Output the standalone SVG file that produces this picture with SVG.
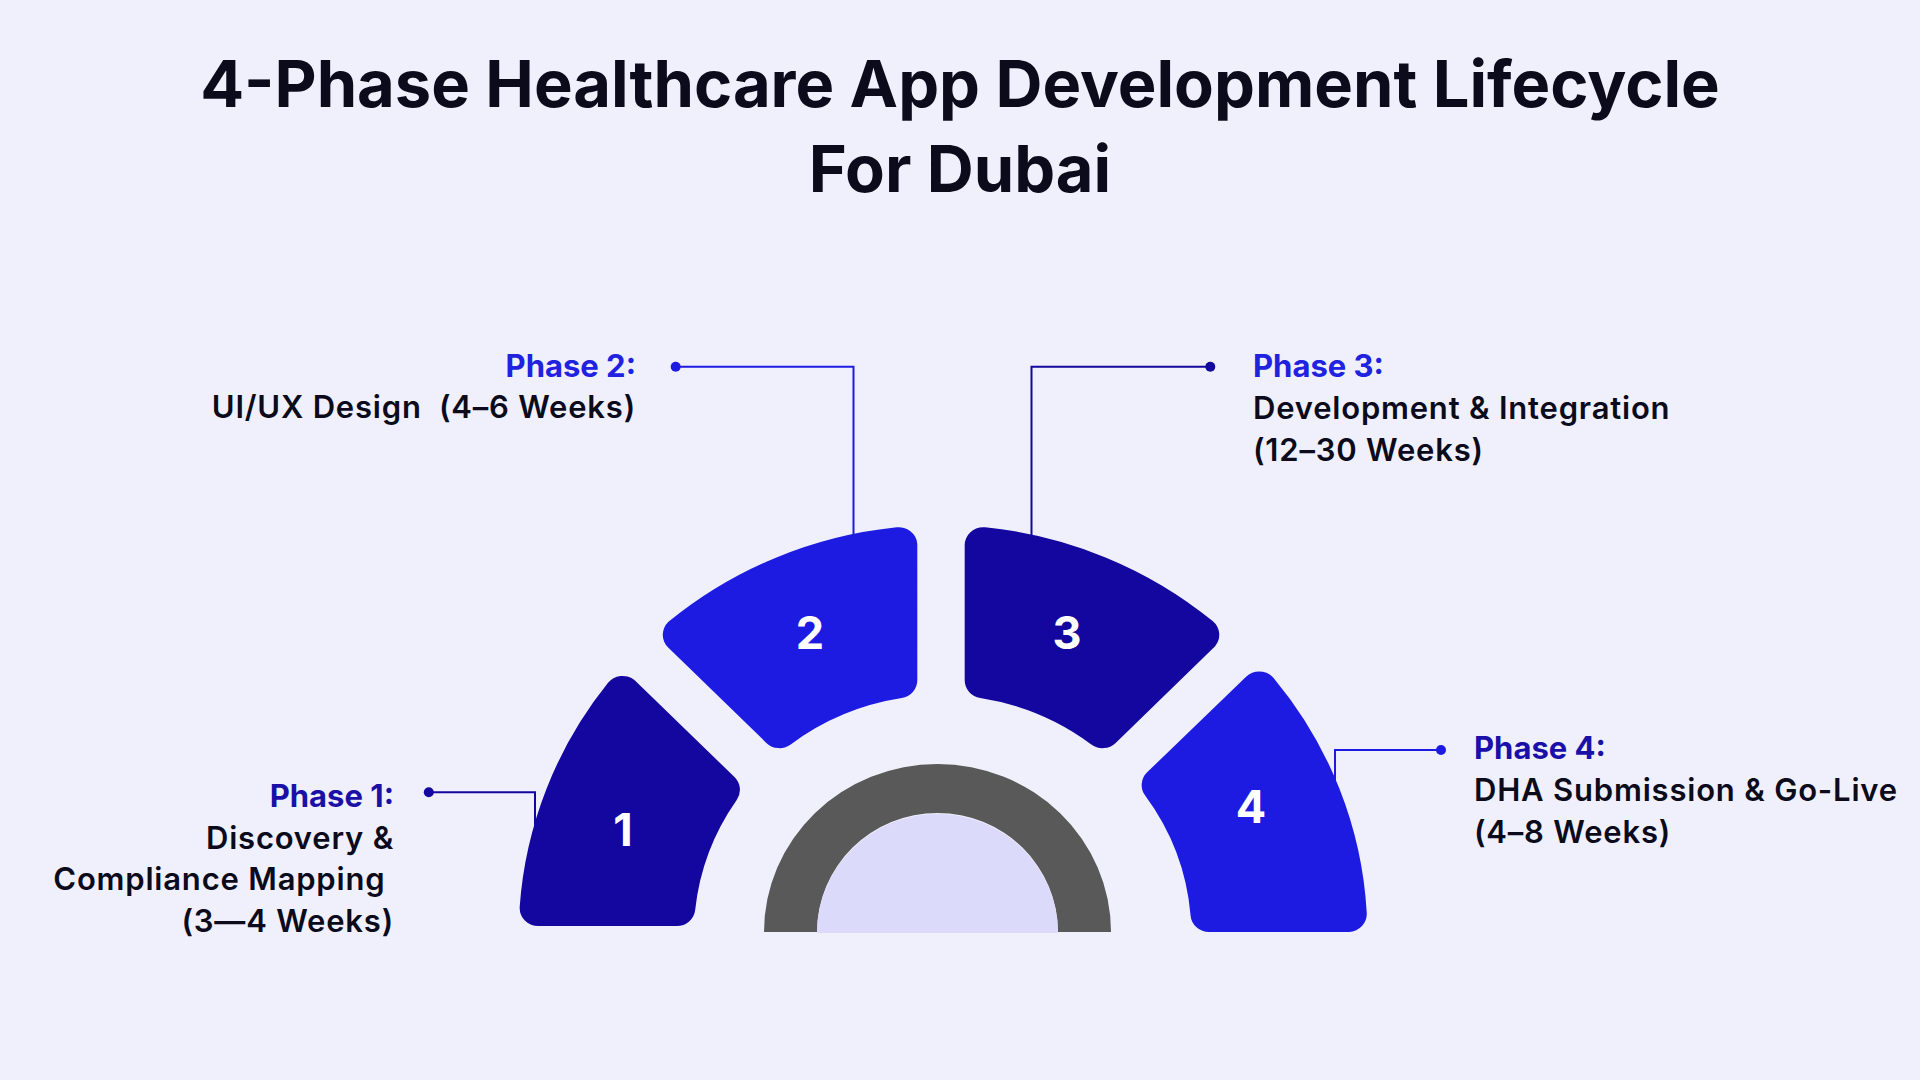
<svg xmlns="http://www.w3.org/2000/svg" width="1920" height="1080" viewBox="0 0 1920 1080">
  <style>
    .title { font-family: Inter, "Liberation Sans", sans-serif; font-weight: 700; font-size: 65px; fill: #0B0B1C; text-anchor: middle; }
    .ph { font-family: Inter, "Liberation Sans", sans-serif; font-weight: 700; font-size: 31px; }
    .body { font-family: Inter, "Liberation Sans", sans-serif; font-weight: 600; font-size: 31px; letter-spacing: 0.8px; fill: #0B0B1C; }
    .num { font-family: Inter, "Liberation Sans", sans-serif; font-weight: 700; font-size: 45px; fill: #FFFFFF; text-anchor: middle; }
    .dark { fill: #13079F; stroke: #13079F; }
    .bright { fill: #1D1BE2; stroke: #1D1BE2; }
    .seg { stroke-width: 36; stroke-linejoin: round; }
    .conn { fill: none; stroke-width: 2; }
    .right { text-anchor: end; }
  </style>
  <rect width="1920" height="1080" fill="#F0F0FC"/>

  <g id="title">
    <text class="title" x="960" y="107">4-Phase Healthcare App Development Lifecycle</text>
    <text class="title" x="960" y="192">For Dubai</text>
  </g>

  <g id="connectors">
    <path class="conn" stroke="#13079F" d="M 428.8 792.3 H 535 V 845"/>
    <circle cx="428.8" cy="792.3" r="5" fill="#13079F"/>
    <path class="conn" stroke="#1D1BE2" d="M 675.7 366.7 H 853.5 V 570"/>
    <circle cx="675.7" cy="366.7" r="5" fill="#1D1BE2"/>
    <path class="conn" stroke="#13079F" d="M 1210.3 366.7 H 1031.5 V 570"/>
    <circle cx="1210.3" cy="366.7" r="5" fill="#13079F"/>
    <path class="conn" stroke="#1D1BE2" d="M 1441 750 H 1335 V 800"/>
    <circle cx="1441" cy="750" r="5" fill="#1D1BE2"/>
  </g>

  <g id="center-arc">
    <path d="M 764 932 A 173.5 168 0 0 1 1111 932 L 1058 932 A 120.5 119 0 0 0 817 932 Z" fill="#595959"/>
    <path d="M 817 933 A 120.5 119 0 0 1 1058 933 Z" fill="#DCDAFB"/>
  </g>

  <g id="phase1">
    <path class="seg dark" transform="translate(941,935) scale(1.03,1)" d="M -391.07 -27 A 392 392 0 0 1 -309.09 -241.09 L -213.24 -145.24 A 258 258 0 0 0 -256.58 -27 Z"/>
    <text class="num" x="623" y="846">1</text>
    <text class="ph right" x="394" y="807" fill="#1A10A8">Phase 1:</text>
    <text class="body right" x="394" y="849">Discovery &amp;</text>
    <text class="body right" x="394" y="890" xml:space="preserve">Compliance Mapping </text>
    <text class="body right" x="394" y="932">(3—4 Weeks)</text>
  </g>

  <g id="phase2">
    <path class="seg bright" transform="translate(941,935) scale(1.03,1)" d="M -252.15 -300.15 A 392 392 0 0 1 -41 -389.85 L -41 -254.72 A 258 258 0 0 0 -156.85 -204.85 Z"/>
    <text class="num" x="810" y="649">2</text>
    <text class="ph right" x="636" y="377" fill="#2121E0">Phase 2:</text>
    <text class="body right" x="636" y="418" xml:space="preserve">UI/UX Design  (4–6 Weeks)</text>
  </g>

  <g id="phase3">
    <path class="seg dark" transform="translate(941,935) scale(1.03,1)" d="M 41 -389.85 A 392 392 0 0 1 252.15 -300.15 L 156.85 -204.85 A 258 258 0 0 0 41 -254.72 Z"/>
    <text class="num" x="1067" y="649">3</text>
    <text class="ph" x="1253" y="377" fill="#2121E0">Phase 3:</text>
    <text class="body" x="1253" y="419">Development &amp; Integration</text>
    <text class="body" x="1253" y="461">(12–30 Weeks)</text>
  </g>

  <g id="phase4">
    <path class="seg bright" transform="translate(943,935) scale(1.035,1)" d="M 305.56 -245.56 A 392 392 0 0 1 391.44 -21 L 257.14 -21 A 258 258 0 0 0 209.95 -149.95 Z"/>
    <text class="num" x="1251" y="823">4</text>
    <text class="ph" x="1474" y="759" fill="#1A10A8">Phase 4:</text>
    <text class="body" x="1474" y="801">DHA Submission &amp; Go-Live</text>
    <text class="body" x="1474" y="843">(4–8 Weeks)</text>
  </g>
</svg>
